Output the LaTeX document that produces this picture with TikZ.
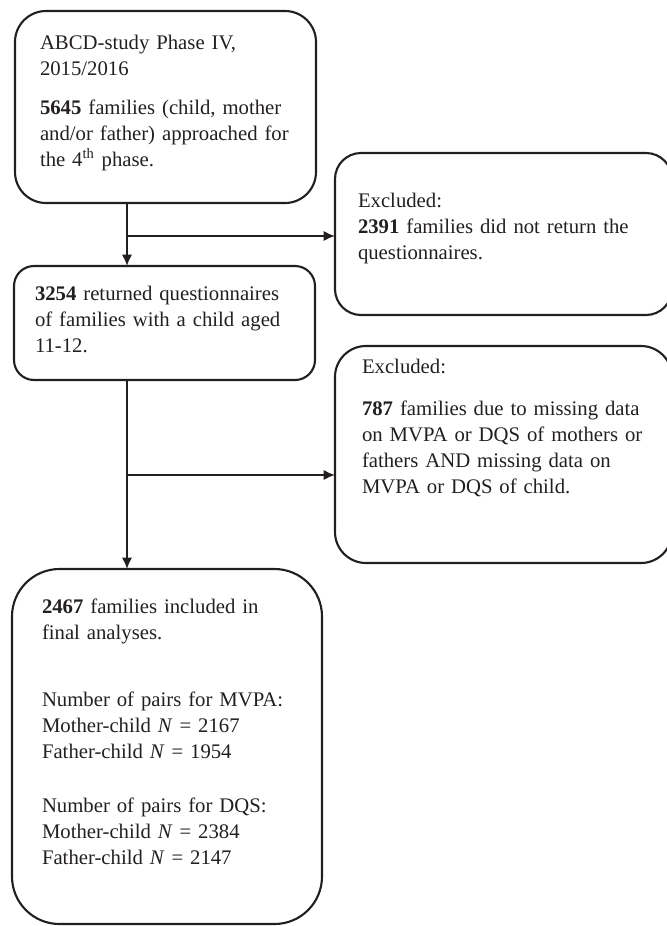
\documentclass[tikz,border=0pt]{standalone}
\usepackage{fontspec}
\setmainfont{Liberation Serif}
\usepackage{xcolor}
\usepackage{tikz}
\usetikzlibrary{positioning,arrows.meta}
\definecolor{ink}{HTML}{231F20}

\begin{document}
\begin{tikzpicture}[draw=ink, text=ink, line width=1.2pt]
    \tikzstyle{stage}=[draw, anchor=north west, align=left, inner ysep=0pt, outer sep=0pt, font=\fontsize{11.8}{14.8}\selectfont]
    \tikzstyle{excluded}=[stage]
    \tikzstyle{edge} = [-{Latex[length=2.3mm,width=2.1mm]}, line width=1.1pt]

    \useasboundingbox (0,0) rectangle (13.34,-18.52);
    \clip (0,0) rectangle (13.34,-18.52);

    \node[stage, rounded corners=0.62cm, inner xsep=0.5cm, text width=5.02cm, text height=0.76cm, text depth=3.08cm] (phase) at (0.30,-0.22)
        {ABCD-study Phase IV,\\ 2015/2016\\[0.26cm] \textbf{5645} families (child, mother\\ and/or father) approached for\\ the 4\textsuperscript{th} phase.};
    \node[stage, rounded corners=0.40cm, inner xsep=0.42cm, text width=5.18cm, text height=0.68cm, text depth=1.60cm] (returned) at (0.28,-5.32)
        {\textbf{3254} returned questionnaires\\ of families with a child aged\\ 11-12.};
    \node[stage, rounded corners=0.95cm, inner xsep=0.60cm, text width=5.00cm, text height=0.88cm, text depth=6.22cm] (included) at (0.24,-11.38)
        {\textbf{2467} families included in\\ final analyses.\\[0.82cm] Number of pairs for MVPA:\\ Mother-child \textit{N} = 2167\\ Father-child \textit{N} = 1954\\[0.56cm] Number of pairs for DQS:\\ Mother-child \textit{N} = 2384\\ Father-child \textit{N} = 2147};

    \node[excluded, rounded corners=0.52cm, inner xsep=0.46cm, text width=5.82cm, text height=1.08cm, text depth=2.16cm] (nonreturn) at (6.70,-3.06)
        {Excluded:\\ \textbf{2391} families did not return the\\ questionnaires.};
    \node[excluded, rounded corners=0.62cm, inner xsep=0.54cm, text width=5.66cm, text height=0.54cm, text depth=3.80cm] (missing) at (6.70,-6.92)
        {Excluded:\\[0.32cm] \textbf{787} families due to missing data\\ on MVPA or DQS of mothers or\\ fathers AND missing data on\\ MVPA or DQS of child.};

    % branch points on the main line
    \coordinate (split1) at (2.54,-4.72);
    \coordinate (split2) at (2.54,-9.50);

    \draw[edge] (phase.south -| split1) -- (returned.north -| split1);
    \draw[edge] (split1) -- (split1 -| nonreturn.west);
    \draw[edge] (returned.south -| split2) -- (included.north -| split2);
    \draw[edge] (split2) -- (split2 -| missing.west);
\end{tikzpicture}
\end{document}
